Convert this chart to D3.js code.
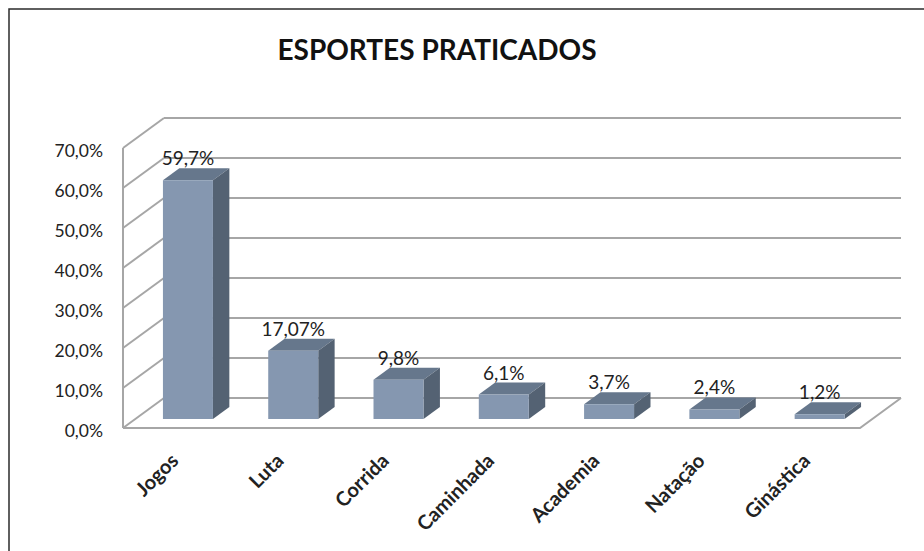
<!DOCTYPE html>
<html>
<head>
<meta charset="utf-8">
<script src="https://cdn.jsdelivr.net/npm/d3@7"></script>
<style>
  body { margin: 0; background: #fff; }
  text { font-family: Lato, "Open Sans", sans-serif; fill: #222; }
</style>
</head>
<body>
<svg width="924" height="551"></svg>
<script>
// Chart data
let categories = ["Jogos", "Luta", "Corrida", "Caminhada", "Academia", "Natação", "Ginástica"];
let values = [59.7, 17.07, 9.8, 6.1, 3.7, 2.4, 1.2];
let valueLabels = ["59,7%", "17,07%", "9,8%", "6,1%", "3,7%", "2,4%", "1,2%"];
let yTicks = [0, 10, 20, 30, 40, 50, 60, 70];
let yTickLabels = ["0,0%", "10,0%", "20,0%", "30,0%", "40,0%", "50,0%", "60,0%", "70,0%"];

let svg = d3.select("svg");

// depth of the 3d box (back wall offset)
let depthX = 41;
let depthY = -30;

// bars sit between these depth fractions
let barFront = 0.3;
let barBack = 0.7;

// scales for the front plane
let x = d3.scaleBand()
  .domain(categories)
  .range([123, 860])
  .paddingInner(0.525)
  .paddingOuter(0.2625);

let y = d3.scaleLinear()
  .domain([0, 70])
  .range([428, 148]);

// project a front point to a given depth
function proj(px, py, d) {
  return [px + depthX * d, py + depthY * d];
}

function poly(points) {
  return points.map(function (p) { return p.join(","); }).join(" ");
}

// chart border (only left and top visible)
svg.append("rect")
  .attr("x", 9)
  .attr("y", 9)
  .attr("width", 1000)
  .attr("height", 1000)
  .attr("fill", "none")
  .attr("stroke", "#2b2b2b")
  .attr("stroke-width", 1.5);

// title
svg.append("text")
  .attr("x", 437)
  .attr("y", 60)
  .attr("text-anchor", "middle")
  .attr("font-size", 28)
  .attr("font-weight", "bold")
  .style("fill", "#111")
  .text("ESPORTES PRATICADOS");

let grid = svg.append("g")
  .attr("stroke", "#a6a6a6")
  .attr("stroke-width", 2)
  .attr("fill", "none");

let x0 = x.range()[0];
let x1 = x.range()[1];

// back wall gridlines
grid.selectAll("line.back")
  .data(yTicks)
  .enter()
  .append("line")
  .attr("class", "back")
  .attr("x1", function (d) { return proj(x0, y(d), 1)[0]; })
  .attr("y1", function (d) { return proj(x0, y(d), 1)[1]; })
  .attr("x2", function (d) { return proj(x1, y(d), 1)[0]; })
  .attr("y2", function (d) { return proj(x1, y(d), 1)[1]; });

// side wall gridlines
grid.selectAll("line.side")
  .data(yTicks)
  .enter()
  .append("line")
  .attr("class", "side")
  .attr("x1", x0)
  .attr("y1", function (d) { return y(d); })
  .attr("x2", function (d) { return proj(x0, y(d), 1)[0]; })
  .attr("y2", function (d) { return proj(x0, y(d), 1)[1]; });

// front left edge of the wall
grid.append("line")
  .attr("x1", x0).attr("y1", y(0))
  .attr("x2", x0).attr("y2", y(70));

// floor front and right edges
grid.append("polyline")
  .attr("points", poly([[x0, y(0)], [x1, y(0)], proj(x1, y(0), 1)]));

// y axis labels
svg.append("g")
  .selectAll("text")
  .data(yTicks)
  .enter()
  .append("text")
  .attr("x", 103)
  .attr("y", function (d) { return y(d) + 3; })
  .attr("dy", "0.35em")
  .attr("text-anchor", "end")
  .attr("font-size", 17.5)
  .text(function (d, i) { return yTickLabels[i]; });

// bars
let bars = svg.append("g")
  .selectAll("g")
  .data(values)
  .enter()
  .append("g");

function barPts(d, i) {
  let l = x(categories[i]);
  let r = l + x.bandwidth();
  let t = y(d);
  let b = y(0);
  return { l: l, r: r, t: t, b: b };
}

// top face
bars.append("polygon")
  .attr("fill", "#66778c")
  .attr("points", function (d, i) {
    let p = barPts(d, i);
    return poly([proj(p.l, p.t, barFront), proj(p.r, p.t, barFront), proj(p.r, p.t, barBack), proj(p.l, p.t, barBack)]);
  });

// side face
bars.append("polygon")
  .attr("fill", "#546273")
  .attr("points", function (d, i) {
    let p = barPts(d, i);
    return poly([proj(p.r, p.t, barFront), proj(p.r, p.b, barFront), proj(p.r, p.b, barBack), proj(p.r, p.t, barBack)]);
  });

// front face
bars.append("polygon")
  .attr("fill", "#8597b0")
  .attr("points", function (d, i) {
    let p = barPts(d, i);
    return poly([proj(p.l, p.t, barFront), proj(p.r, p.t, barFront), proj(p.r, p.b, barFront), proj(p.l, p.b, barFront)]);
  });

// value labels above bars
bars.append("text")
  .attr("x", function (d, i) {
    let p = barPts(d, i);
    return proj((p.l + p.r) / 2, p.t, barFront)[0];
  })
  .attr("y", function (d, i) {
    let p = barPts(d, i);
    return proj(p.l, p.t, barBack)[1] - 3;
  })
  .attr("text-anchor", "middle")
  .attr("font-size", 19)
  .text(function (d, i) { return valueLabels[i]; });

// category labels, rotated
svg.append("g")
  .selectAll("text")
  .data(categories)
  .enter()
  .append("text")
  .attr("transform", function (d) {
    let cx = x(d) + x.bandwidth() / 2 + 4;
    return "translate(" + cx + ",462) rotate(-45)";
  })
  .attr("text-anchor", "end")
  .attr("font-size", 20)
  .attr("font-weight", "bold")
  .text(function (d) { return d; });
</script>
</body>
</html>
